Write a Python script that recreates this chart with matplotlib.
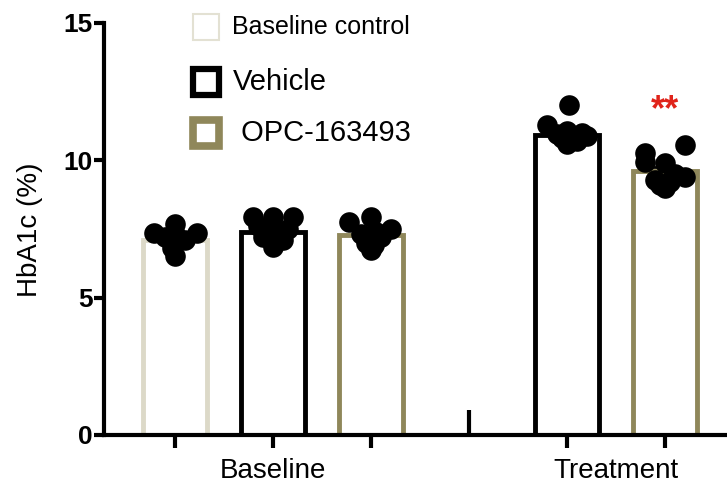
import matplotlib
matplotlib.use("Agg")
import matplotlib.pyplot as plt
from matplotlib.patches import Rectangle

plt.rcParams['font.family'] = ['Liberation Sans', 'DejaVu Sans']

# data
groups = ['Baseline control', 'Vehicle', 'OPC-163493', 'Vehicle', 'OPC-163493']
positions = [0, 1, 2, 4, 5]
means = [7.1, 7.4, 7.28, 10.92, 9.6]
sems = [0.12, 0.1, 0.1, 0.13, 0.15]
dots = [
    [7.7, 7.35, 7.35, 7.3, 7.2, 7.1, 7.0, 6.8, 6.5],
    [7.95, 7.95, 7.95, 7.6, 7.5, 7.4, 7.3, 7.2, 7.1, 6.95, 6.85],
    [7.95, 7.75, 7.5, 7.4, 7.3, 7.2, 7.1, 7.0, 6.9, 6.75],
    [12.0, 11.3, 11.05, 11.0, 10.95, 10.9, 10.85, 10.8, 10.7, 10.6],
    [10.55, 10.25, 9.95, 9.9, 9.5, 9.4, 9.3, 9.2, 9.1, 9.0],
]
jitter = [
    [0.0, -0.21, 0.22, 0.0, -0.1, 0.1, 0.0, -0.03, 0.0],
    [-0.2, 0.0, 0.2, -0.15, 0.15, -0.05, 0.08, -0.1, 0.1, 0.0, 0.0],
    [0.0, -0.22, 0.2, 0.05, -0.1, 0.1, 0.0, -0.05, 0.03, 0.0],
    [0.02, -0.2, 0.0, 0.15, -0.1, 0.2, 0.05, -0.05, 0.1, 0.0],
    [0.2, -0.2, -0.2, 0.0, 0.1, 0.2, -0.1, 0.05, -0.05, 0.0],
]
colors = ['#dcd9c8', 'black', '#8f875a', 'black', '#8f875a']
categories = ['Baseline', 'Treatment']
cat_pos = [1, 4.5]
legend_labels = ['Baseline control', 'Vehicle', ' OPC-163493']
legend_edges = ['#e3e1d3', 'black', '#8f875a']

W, H = 727, 503
fig = plt.figure(figsize=(W / 100, H / 100), dpi=100)
ax = fig.add_axes([104 / W, 1 - 435 / H, 1 - 104 / W, (435 - 23) / H])

ax.bar(positions, means, width=0.66, color='white', edgecolor=colors,
       linewidth=3.5, zorder=2)
for p, m, s in zip(positions, means, sems):
    ax.errorbar(p, m, yerr=s, color='black', capsize=10, elinewidth=2,
                capthick=2, zorder=3)
for p, d, j in zip(positions, dots, jitter):
    ax.scatter([p + o for o in j], d, s=220, color='black', zorder=4,
               linewidths=0)

# small break mark between groups
ax.vlines(3, 0, 0.9, color='black', linewidth=3)

ax.text(5, 11.8, '**', color='#e0241b', fontsize=26, ha='center',
        va='center', fontweight='bold')

ax.set_xlim(-0.724, 5.633)
ax.set_ylim(0, 15)
ax.set_yticks([0, 5, 10, 15])
ax.set_yticklabels(['0', '5', '10', '15'], fontsize=19, fontweight='bold')
ax.set_xticks(positions)
ax.set_xticklabels([])
ax.tick_params(axis='y', width=3, length=7, pad=1)
ax.tick_params(axis='x', width=3, length=9)
for sp in ['top', 'right']:
    ax.spines[sp].set_visible(False)
for sp in ['left', 'bottom']:
    ax.spines[sp].set_linewidth(3)
for c, xp in zip(categories, cat_pos):
    ax.text(xp, -1.3, c, ha='center', va='center', fontsize=20)
fig.text(30 / W, 1 - 230 / H, 'HbA1c (%)', rotation=90, ha='center',
         va='center', fontsize=20)

# legend drawn by hand
rows = [27, 82, 133]
lws = [1.5, 4.5, 5.5]
sizes = [18, 21, 21]
text_x = [232, 233, 233]
for r, lab, ec, lw, fs, tx in zip(rows, legend_labels, legend_edges, lws,
                                  sizes, text_x):
    fig.add_artist(Rectangle((193 / W, 1 - (r + 13) / H), 26 / W, 26 / H,
                             transform=fig.transFigure, facecolor='white',
                             edgecolor=ec, linewidth=lw))
    fig.text(tx / W, 1 - r / H, lab, ha='left', va='center', fontsize=fs)

fig.savefig('out.png', dpi=100)
